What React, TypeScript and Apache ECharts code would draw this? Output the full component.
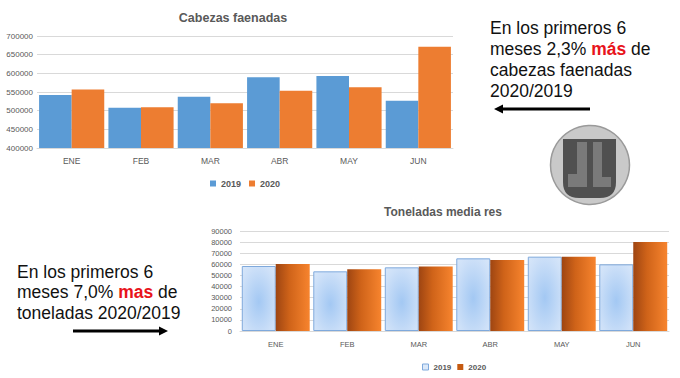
import React, { useEffect, useRef } from "react";
import * as echarts from "echarts";

const months = ["ENE", "FEB", "MAR", "ABR", "MAY", "JUN"];
const cabezas2019 = [542000, 508000, 537500, 589300, 592900, 526800];
const cabezas2020 = [557000, 509000, 519700, 553600, 562500, 671400];
const toneladas2019 = [58500, 53700, 57300, 65400, 66900, 60000];
const toneladas2020 = [60300, 55500, 58000, 63900, 66800, 80100];
const seriesNames = ["2019", "2020"];
const topTitle = "Cabezas faenadas";
const bottomTitle = "Toneladas media res";
const noteTop = ["En los primeros 6", "meses 2,3% {r|más} de", "cabezas faenadas", "2020/2019"];
const noteBottom = ["En los primeros 6", "meses 7,0% {r|mas} de", "toneladas 2020/2019"];

const FONT = "'Liberation Sans', Arial, sans-serif";
const GREY = "#595959";
const NOTE_SIZE = 17.5;

let registered = false;
function registerLogo() {
  if (registered) return;
  registered = true;
  echarts.graphic.registerShape(
    "logoU",
    echarts.graphic.extendPath("M563 139 L616 139 L616 182 Q616 198 600 198 L579 198 Q563 198 563 182 Z", {})
  );
}

export default function App() {
  const ref = useRef<HTMLDivElement>(null);

  useEffect(() => {
    if (!ref.current) return;
    registerLogo();
    const chart = echarts.init(ref.current, null, { renderer: "svg" });

    const blueGrad = new echarts.graphic.RadialGradient(0.5, 0.55, 1.1, [
      { offset: 0, color: "#a3c8f3" },
      { offset: 0.5, color: "#cde0f8" },
      { offset: 1, color: "#edf4fc" },
    ]);
    const orangeGrad = new echarts.graphic.LinearGradient(0, 0, 1, 0, [
      { offset: 0, color: "#9e4512" },
      { offset: 0.4, color: "#cf6319" },
      { offset: 1, color: "#f7842e" },
    ]);

    const noteText = (lines: string[], x: number, y0: number, step: number) =>
      lines.map((t, i) => ({
        type: "text",
        x,
        y: y0 + i * step,
        style: {
          text: t,
          fontSize: NOTE_SIZE,
          fontFamily: FONT,
          fill: "#111",
          verticalAlign: "middle",
          rich: { r: { fontSize: NOTE_SIZE, fontFamily: FONT, fill: "#e8141b", fontWeight: "bold" } },
        },
      }));

    const arrow = (x1: number, x2: number, y: number) => {
      const dir = x2 > x1 ? 1 : -1;
      const headLen = 9;
      return [
        {
          type: "line",
          shape: { x1, y1: y, x2: x2 - dir * headLen, y2: y },
          style: { stroke: "#000", lineWidth: 3 },
        },
        {
          type: "polygon",
          shape: { points: [[x2, y], [x2 - dir * headLen, y - 4.5], [x2 - dir * headLen, y + 4.5]] },
          style: { fill: "#000" },
        },
      ];
    };

    const plain = (v: number) => String(v);

    const option: any = {
      animation: false,
      backgroundColor: "#fff",
      textStyle: { fontFamily: FONT },
      grid: [
        { left: 37, right: 227, top: 36, bottom: 230, outerBoundsMode: "none" },
        { left: 240, right: 11, top: 231, bottom: 47, outerBoundsMode: "none" },
      ],
      legend: [
        {
          left: 205,
          top: 174,
          itemWidth: 6,
          itemHeight: 6,
          itemGap: 8,
          textStyle: { color: GREY, fontSize: 9, fontWeight: "bold", fontFamily: FONT },
          data: [
            { name: seriesNames[0], icon: "rect", itemStyle: { color: "#5b9bd5" } },
            { name: seriesNames[1], icon: "rect", itemStyle: { color: "#ed7d31" } },
          ],
        },
        {
          left: 417,
          top: 358,
          itemWidth: 6,
          itemHeight: 6,
          itemGap: 6,
          textStyle: { color: GREY, fontSize: 8, fontWeight: "bold", fontFamily: FONT },
          data: [
            { name: seriesNames[0], icon: "rect", itemStyle: { color: "#dce9f9", borderColor: "#7fa9dc", borderWidth: 1 } },
            { name: seriesNames[1], icon: "rect", itemStyle: { color: "#c55a11", borderWidth: 0 } },
          ],
        },
      ],
      xAxis: [
        {
          type: "category",
          gridIndex: 0,
          data: months,
          axisLine: { lineStyle: { color: "#d9d9d9" } },
          axisTick: { show: false },
          axisLabel: { color: GREY, fontSize: 8.5, margin: 8, fontFamily: FONT },
        },
        {
          type: "category",
          gridIndex: 1,
          data: months,
          axisLine: { lineStyle: { color: "#d9d9d9" } },
          axisTick: { show: false },
          axisLabel: { color: GREY, fontSize: 7.5, margin: 9, fontFamily: FONT },
        },
      ],
      yAxis: [
        {
          type: "value",
          gridIndex: 0,
          min: 400000,
          max: 700000,
          interval: 50000,
          axisLine: { show: false },
          axisTick: { show: false },
          splitLine: { lineStyle: { color: "#d9d9d9" } },
          axisLabel: { color: GREY, fontSize: 8, margin: 4, fontFamily: FONT, formatter: plain },
        },
        {
          type: "value",
          gridIndex: 1,
          min: 0,
          max: 90000,
          interval: 10000,
          axisLine: { show: false },
          axisTick: { show: false },
          splitLine: { lineStyle: { color: "#d9d9d9" } },
          axisLabel: { color: GREY, fontSize: 7.5, margin: 8, fontFamily: FONT, formatter: plain },
        },
      ],
      series: [
        {
          name: seriesNames[0],
          type: "bar",
          xAxisIndex: 0,
          yAxisIndex: 0,
          data: cabezas2019,
          barGap: "0%",
          barCategoryGap: "6%",
          itemStyle: { color: "#5b9bd5" },
        },
        {
          name: seriesNames[1],
          type: "bar",
          xAxisIndex: 0,
          yAxisIndex: 0,
          data: cabezas2020,
          barGap: "0%",
          barCategoryGap: "6%",
          itemStyle: { color: "#ed7d31" },
        },
        {
          name: seriesNames[0],
          type: "bar",
          xAxisIndex: 1,
          yAxisIndex: 1,
          data: toneladas2019,
          barGap: "0%",
          barCategoryGap: "5%",
          itemStyle: { color: blueGrad, borderColor: "#7fa9dc", borderWidth: 1 },
        },
        {
          name: seriesNames[1],
          type: "bar",
          xAxisIndex: 1,
          yAxisIndex: 1,
          data: toneladas2020,
          barGap: "0%",
          barCategoryGap: "5%",
          itemStyle: { color: orangeGrad },
        },
      ],
      graphic: [
        {
          type: "text",
          x: 233,
          y: 18,
          style: {
            text: topTitle,
            fontSize: 12.5,
            fontWeight: "bold",
            fontFamily: FONT,
            fill: GREY,
            align: "center",
            verticalAlign: "middle",
          },
        },
        {
          type: "text",
          x: 443,
          y: 212,
          style: {
            text: bottomTitle,
            fontSize: 12,
            fontWeight: "bold",
            fontFamily: FONT,
            fill: GREY,
            align: "center",
            verticalAlign: "middle",
          },
        },
        ...noteText(noteTop, 490, 27.5, 21.2),
        ...noteText(noteBottom, 17, 271.5, 20.9),
        ...arrow(590, 494, 109),
        ...arrow(73, 168, 331),
        {
          type: "circle",
          shape: { cx: 590, cy: 165, r: 39.5 },
          style: { fill: "#c9c9c9", stroke: "#9a9a9a", lineWidth: 1.5 },
        },
        { type: "logoU", x: 0, y: 0, style: { fill: "#505050" } },
        {
          type: "polygon",
          shape: { points: [[577, 142], [587, 142], [587, 187], [568, 187], [568, 174], [577, 174]] },
          style: { fill: "#7a7a7a" },
        },
        {
          type: "polygon",
          shape: { points: [[593, 142], [602, 142], [602, 177], [611, 177], [611, 187], [593, 187]] },
          style: { fill: "#7a7a7a" },
        },
      ],
    };

    chart.setOption(option);
    return () => chart.dispose();
  }, []);

  return (
    <div
      ref={ref}
      style={{ position: "absolute", left: 0, top: 0, width: 680, height: 378, background: "#fff" }}
    />
  );
}
